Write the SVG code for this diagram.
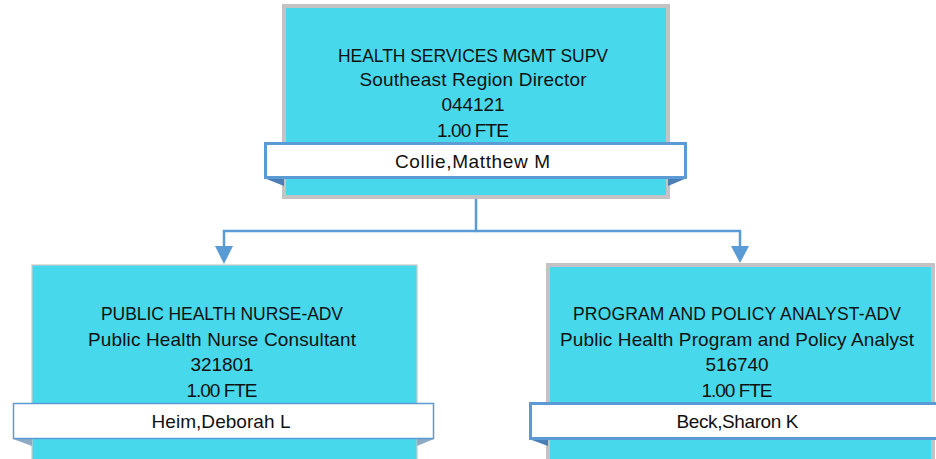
<svg xmlns="http://www.w3.org/2000/svg" width="936" height="459" viewBox="0 0 936 459">
<defs>
<style>
.box{fill:#47d8eb;}
.thick{stroke:#c3c3c3;stroke-width:4;}
.thin{stroke:#c8c8c8;stroke-width:1.2;}
.bar{fill:#ffffff;stroke:#5b9bd5;}
.fold{fill:#4a7fb5;}
.conn{fill:none;stroke:#5b9bd5;stroke-width:2.5;}
.head{fill:#5b9bd5;}
text{font-family:"Liberation Sans",Arial,sans-serif;font-size:19px;fill:#111;text-anchor:middle;}
text.caps{font-size:17.5px;}
</style>
</defs>
<g id="connectors">
<polyline class="conn" points="476,199 476,231 224,231 224,248"/>
<polyline class="conn" points="476,231 740,231 740,248"/>
<polygon class="head" points="215,246 233,246 224,264"/>
<polygon class="head" points="731,246 749,246 740,263"/>
</g>
<g id="node-top">
<rect class="box thick" x="284" y="6" width="384" height="191"/>
<polygon class="fold" points="264,178 284,178 284,186"/>
<polygon class="fold" points="687,178 668,178 668,186"/>
<rect class="bar" style="stroke-width:3" x="265.5" y="143.5" width="420" height="34"/>
<text class="caps" x="473" y="61.5" textLength="270">HEALTH SERVICES MGMT SUPV</text>
<text x="473" y="86" textLength="227">Southeast Region Director</text>
<text x="473" y="111" textLength="63">044121</text>
<text x="473" y="137" textLength="72">1.00 FTE</text>
<text x="472.5" y="168" textLength="155">Collie,Matthew M</text>
</g>
<g id="node-left">
<rect class="box thin" x="32" y="265" width="385" height="200"/>
<polygon class="fold" style="fill:#8fa9c4" points="13,439 32,439 32,446"/>
<polygon class="fold" style="fill:#8fa9c4" points="434,439 417,439 417,446"/>
<rect class="bar" style="stroke-width:1.5" x="13.5" y="403.5" width="420" height="35"/>
<text class="caps" x="222" y="320" textLength="242">PUBLIC HEALTH NURSE-ADV</text>
<text x="222" y="345.5" textLength="268">Public Health Nurse Consultant</text>
<text x="222" y="371" textLength="63">321801</text>
<text x="222" y="396.5" textLength="71">1.00 FTE</text>
<text x="221" y="428" textLength="139">Heim,Deborah L</text>
</g>
<g id="node-right">
<rect class="box thick" x="548" y="265" width="385" height="200"/>
<polygon class="fold" points="529,439 548,439 548,446"/>
<rect class="bar" style="stroke-width:3" x="530.5" y="403.5" width="420" height="35"/>
<text class="caps" x="737" y="320" textLength="328">PROGRAM AND POLICY ANALYST-ADV</text>
<text x="737" y="345.5" textLength="354">Public Health Program and Policy Analyst</text>
<text x="737" y="371" textLength="63">516740</text>
<text x="737" y="396.5" textLength="71">1.00 FTE</text>
<text x="737.5" y="428" textLength="122">Beck,Sharon K</text>
</g>
</svg>
